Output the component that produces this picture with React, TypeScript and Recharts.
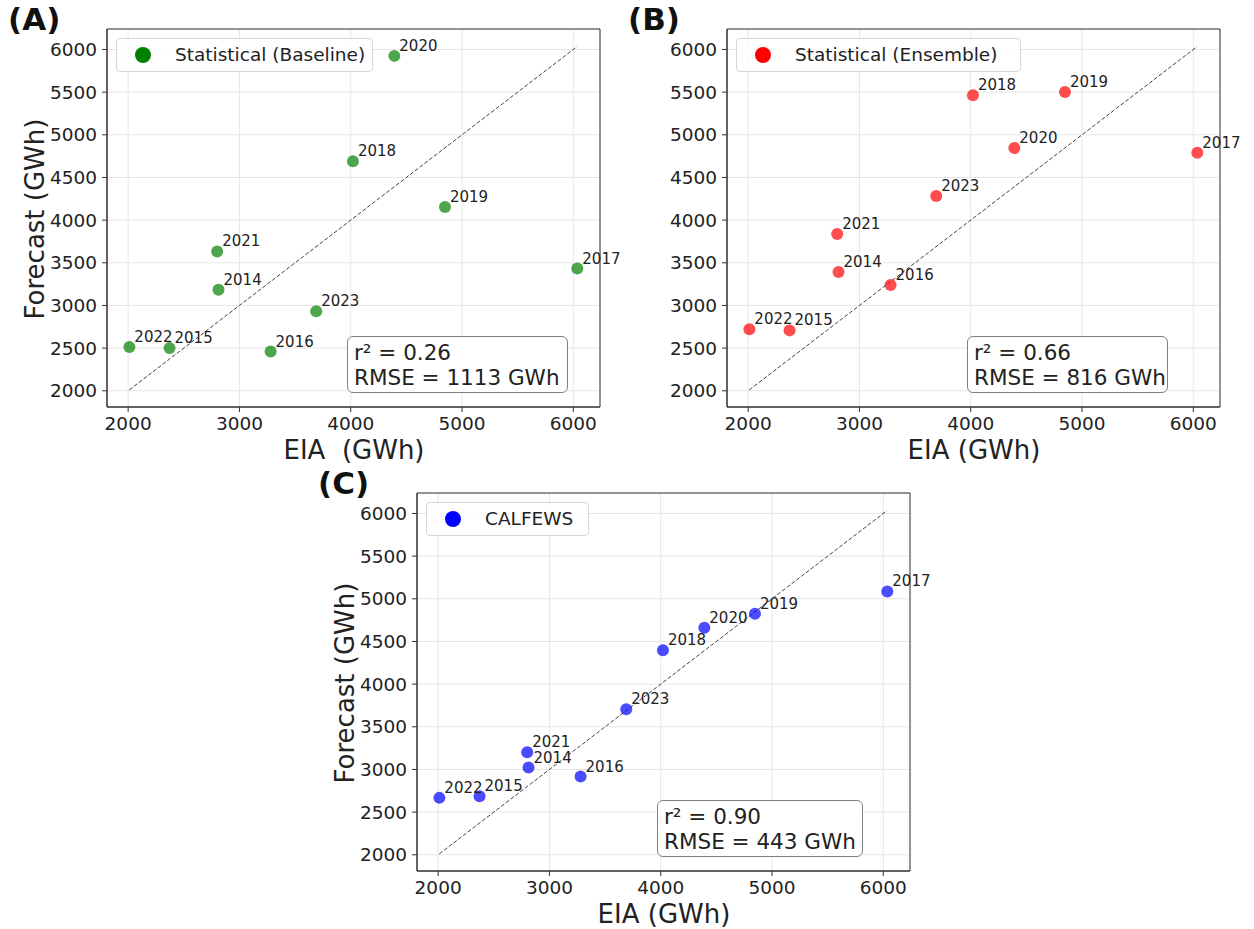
import React from 'react';
import { CartesianGrid, LabelList, ReferenceArea, ReferenceLine, Scatter, ScatterChart, XAxis, YAxis } from 'recharts';

// hydropower generation, EIA vs forecast (GWh)
const years = ['2014', '2015', '2016', '2017', '2018', '2019', '2020', '2021', '2022', '2023'];
const eia = [2812, 2372, 3280, 6036, 4020, 4847, 4392, 2800, 2011, 3690];
const baseline = [3185, 2500, 2460, 3432, 4690, 4155, 5925, 3633, 2512, 2932];
const ensemble = [3393, 2708, 3241, 4790, 5463, 5502, 4844, 3837, 2720, 4284];
const calfews = [3022, 2687, 2917, 5087, 4396, 4825, 4661, 3202, 2667, 3705];

const xTicks = [2000, 3000, 4000, 5000, 6000];
const yTicks = [2000, 2500, 3000, 3500, 4000, 4500, 5000, 5500, 6000];
const domain = [1810, 6240];
const oneToOne = [2010, 6035];

const FONT = '"DejaVu Sans", Verdana, sans-serif';

const panels = [
 { key: 'A', title: '(A)', name: 'Statistical (Baseline)', values: baseline, color: '#008000', r2: '0.26', rmse: '1113', xLabel: 'EIA\u00a0 (GWh)', yLabel: true, left: 0, top: 0, legendW: 257, statsW: 221 },
 { key: 'B', title: '(B)', name: 'Statistical (Ensemble)', values: ensemble, color: '#ff0000', r2: '0.66', rmse: '816', xLabel: 'EIA (GWh)', yLabel: false, left: 620, top: 0, legendW: 285, statsW: 201 },
 { key: 'C', title: '(C)', name: 'CALFEWS', values: calfews, color: '#0000ff', r2: '0.90', rmse: '443', xLabel: 'EIA (GWh)', yLabel: true, left: 310, top: 464, legendW: 163, statsW: 206 },
];

const YearLabel = (props: any) => {
 const vb = props.viewBox || props;
 const cx = vb.x + (vb.width || 0) / 2;
 const cy = vb.y + (vb.height || 0) / 2;
 return (
 <text x={cx + 5} y={cy - 5} fontSize={15} fontFamily={FONT} fill="#222">
 {props.value}
 </text>
 );
};

function Panel({ p }: { p: typeof panels[number] }) {
 const data = years.map((year, i) => ({ year, eia: eia[i], val: p.values[i] }));

 return (
 <div style={{ position: 'absolute', left: p.left, top: p.top, width: 620, height: 465 }}>
 <ScatterChart width={620} height={465} margin={{ top: 29, right: 20, bottom: 18, left: 47 }}>
 <CartesianGrid stroke="#e6e6e6" />
 <XAxis
 type="number"
 dataKey="eia"
 domain={domain}
 ticks={xTicks}
 allowDataOverflow
 height={40}
 tickSize={5}
 tickMargin={5}
 stroke="#333"
 tick={{ fill: '#222', fontSize: 18.5, fontFamily: FONT }}
 />
 <YAxis
 type="number"
 dataKey="val"
 domain={domain}
 ticks={yTicks}
 allowDataOverflow
 width={60}
 tickSize={5}
 tickMargin={5}
 stroke="#333"
 tick={{ fill: '#222', fontSize: 18.5, fontFamily: FONT }}
 />
 <ReferenceLine
 segment={[{ x: oneToOne[0], y: oneToOne[0] }, { x: oneToOne[1], y: oneToOne[1] }]}
 stroke="#444"
 strokeDasharray="4 2"
 strokeWidth={1}
 />
 <Scatter
 data={data}
 fill={p.color}
 isAnimationActive={false}
 shape={(s: any) => <circle cx={s.cx} cy={s.cy} r={6} fill={p.color} fillOpacity={0.7} />}
 >
 <LabelList dataKey="year" content={YearLabel} />
 </Scatter>
 <ReferenceArea x1={domain[0]} x2={domain[1]} y1={domain[0]} y2={domain[1]} fill="none" stroke="#333" strokeWidth={1} />
 </ScatterChart>

 <div style={{ position: 'absolute', left: 8, top: 1, fontFamily: FONT, fontWeight: 'bold', fontSize: 31, color: '#111' }}>{p.title}</div>

 {p.yLabel && (
 <div style={{ position: 'absolute', left: 35, top: 219, transform: 'translate(-50%, -50%) rotate(-90deg)', whiteSpace: 'nowrap', fontFamily: FONT, fontSize: 26, color: '#222' }}>
 Forecast (GWh)
 </div>
 )}
 <div style={{ position: 'absolute', left: 354, top: 450, transform: 'translate(-50%, -50%)', whiteSpace: 'nowrap', fontFamily: FONT, fontSize: 26, color: '#222' }}>
 {p.xLabel}
 </div>

 <div style={{ position: 'absolute', left: 116, top: 38, width: p.legendW, height: 34, boxSizing: 'border-box', border: '1px solid #d6d6d6', borderRadius: 4, background: 'rgba(255,255,255,0.8)', fontFamily: FONT, fontSize: 18.5, color: '#222' }}>
 <div style={{ position: 'absolute', left: 18, top: 8, width: 16, height: 16, borderRadius: '50%', background: p.color }} />
 <div style={{ position: 'absolute', left: 58, top: 5, whiteSpace: 'nowrap' }}>{p.name}</div>
 </div>

 <div style={{ position: 'absolute', left: 347, top: 336, width: p.statsW, height: 57, boxSizing: 'border-box', border: '1px solid #808080', borderRadius: 6, background: '#fff', fontFamily: FONT, fontSize: 21.5, lineHeight: '25px', color: '#222', padding: '3px 0 0 6px', whiteSpace: 'nowrap' }}>
 <div>r² = {p.r2}</div>
 <div>RMSE = {p.rmse} GWh</div>
 </div>
 </div>
 );
}

export default function App() {
 return (
 <div style={{ position: 'absolute', left: 0, top: 0, width: 1254, height: 929, background: '#fff', overflow: 'hidden' }}>
 {panels.map(p => (
 <Panel key={p.key} p={p} />
 ))}
 </div>
 );
}
